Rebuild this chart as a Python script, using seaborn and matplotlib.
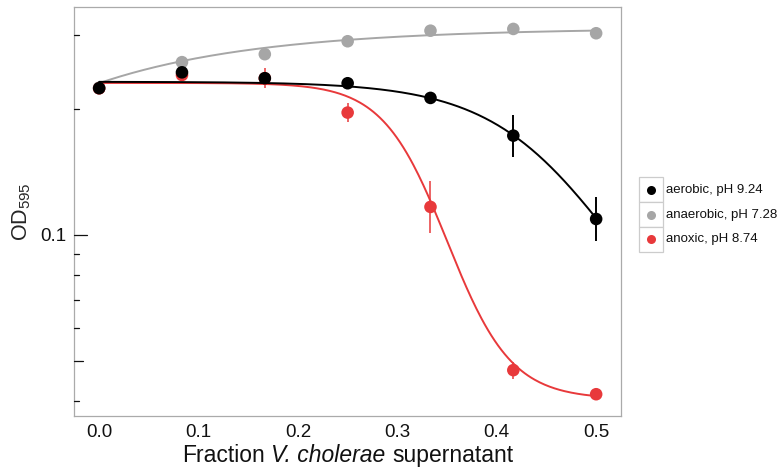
import numpy as np
import pandas as pd
import matplotlib
matplotlib.use("Agg")
import matplotlib.pyplot as plt
import seaborn as sns
from matplotlib.lines import Line2D
from matplotlib.patches import Rectangle
from matplotlib.offsetbox import TextArea, HPacker, AnchoredOffsetbox

# ---------------- data ----------------
fraction = [0.0, 1/12, 2/12, 3/12, 4/12, 5/12, 6/12]
series_names = ["aerobic, pH 9.24", "anaerobic, pH 7.28", "anoxic, pH 8.74"]
series_colors = ["#000000", "#A6A6A6", "#E8393B"]

aerobic_od = [0.2244, 0.2449, 0.2371, 0.2306, 0.2127, 0.1728, 0.1092]
aerobic_lo = [0.2210, 0.2410, 0.2330, 0.2275, 0.2095, 0.1539, 0.0966]
aerobic_hi = [0.2280, 0.2490, 0.2410, 0.2340, 0.2160, 0.1936, 0.1231]

anaerobic_od = [0.2250, 0.2590, 0.2706, 0.2906, 0.3080, 0.3110, 0.3037]
anaerobic_lo = [0.2230, 0.2565, 0.2680, 0.2880, 0.3050, 0.3080, 0.3010]
anaerobic_hi = [0.2270, 0.2615, 0.2730, 0.2930, 0.3110, 0.3140, 0.3065]

anoxic_od = [0.2242, 0.2413, 0.2370, 0.1962, 0.1167, 0.0475, 0.0416]
anoxic_lo = [0.2215, 0.2380, 0.2243, 0.1866, 0.1013, 0.0452, 0.0410]
anoxic_hi = [0.2270, 0.2450, 0.2503, 0.2064, 0.1349, 0.0498, 0.0422]

# fitted-model parameters
# log-logistic decline: top, bottom, midpoint, scale
aerobic_fit = [0.2325, 0.0400, 0.5187, 0.0636]
anoxic_fit = [0.2310, 0.0405, 0.3500, 0.0323]
# saturating rise: start, plateau, rate
anaerobic_fit = [0.2307, 0.3126, 6.13]

y_major = [0.1]
y_minor = [0.04, 0.06, 0.07, 0.08, 0.09, 0.2, 0.3]
y_mid = [0.05]
x_ticks = [0.0, 0.1, 0.2, 0.3, 0.4, 0.5]
xlabel_parts = ["Fraction", "V. cholerae", "supernatant"]
xlabel_italic = [False, True, False]


def decline(x, p):
    top, bot, x0, s = p
    lt, lb = np.log10(top), np.log10(bot)
    return 10 ** (lb + (lt - lb) / (1 + np.exp((x - x0) / s)))


def rise(x, p):
    start, plat, k = p
    ls, lp = np.log10(start), np.log10(plat)
    return 10 ** (lp - (lp - ls) * np.exp(-k * x))


xs = np.linspace(0, 0.5, 300)
curves = pd.DataFrame({
    "x": np.concatenate([xs, xs, xs]),
    "y": np.concatenate([decline(xs, aerobic_fit), rise(xs, anaerobic_fit),
                         decline(xs, anoxic_fit)]),
    "series": np.repeat(series_names, len(xs)),
})
points = pd.DataFrame({
    "x": fraction * 3,
    "y": aerobic_od + anaerobic_od + anoxic_od,
    "lo": aerobic_lo + anaerobic_lo + anoxic_lo,
    "hi": aerobic_hi + anaerobic_hi + anoxic_hi,
    "series": np.repeat(series_names, len(fraction)),
})

# ---------------- styling ----------------
sns.set_style("white")
plt.rcParams["font.family"] = ["Liberation Sans", "DejaVu Sans"]
plt.rcParams["mathtext.fontset"] = "custom"
plt.rcParams["mathtext.rm"] = "Liberation Sans"
plt.rcParams["mathtext.it"] = "Liberation Sans:italic"

W, H = 781, 469
fig = plt.figure(figsize=(W / 100, H / 100), dpi=100)
ax = fig.add_axes([74.3 / W, 1 - 416 / H, (621 - 74.3) / W, (416 - 6.7) / H])
ax.set_yscale("log")

cmap = dict(zip(series_names, series_colors))
err_lw = {series_names[0]: 1.4, series_names[1]: 1.1, series_names[2]: 1.1}
draw_order = [series_names[1], series_names[2], series_names[0]]
for i, name in enumerate(draw_order):
    z = 2 + i
    c = curves[curves.series == name]
    sns.lineplot(data=c, x="x", y="y", color=cmap[name], lw=1.4, ax=ax,
                 zorder=z, legend=False)
    p = points[points.series == name]
    ax.vlines(p.x, p.lo, p.hi, color=cmap[name], lw=err_lw[name], zorder=z + 0.1)
    sns.scatterplot(data=p, x="x", y="y", color=cmap[name], s=82,
                    edgecolor="none", ax=ax, zorder=z + 0.2, legend=False)

ax.set_xlim(-0.025, 0.525)
ax.set_ylim(0.0369, 0.3515)

ax.set_xticks(x_ticks)
ax.set_xticklabels([f"{t:.1f}" for t in x_ticks])
ax.yaxis.set_major_locator(matplotlib.ticker.FixedLocator(y_major))
ax.yaxis.set_minor_locator(matplotlib.ticker.NullLocator())
ax.set_yticklabels(["0.1"])
ax.tick_params(axis="both", which="major", direction="out", length=3,
               width=0.9, color="#333333", labelsize=13.5, labelcolor="#111111",
               pad=3)

# inward log ticks
ytr = ax.get_yaxis_transform()
panel_w = 621 - 74.3
for v in y_minor:
    ax.plot([0, 5 / panel_w], [v, v], transform=ytr, color="#111111", lw=0.9,
            clip_on=False, zorder=10)
for v in y_mid:
    ax.plot([0, 9 / panel_w], [v, v], transform=ytr, color="#111111", lw=0.9,
            clip_on=False, zorder=10)
for v in y_major:
    ax.plot([0, 12.4 / panel_w], [v, v], transform=ytr, color="#111111", lw=0.9,
            clip_on=False, zorder=10)

for sp in ax.spines.values():
    sp.set_color("#AAAAAA")
    sp.set_linewidth(0.9)

ax.set_xlabel("")
ax.set_ylabel(r"OD$_{595}$", fontsize=15.5, labelpad=5)


def fx(px):
    return px / W


def fy(py):
    return 1 - py / H


# x label with italic species name
xl_size = 16.5
parts = [TextArea(t, textprops=dict(fontsize=xl_size, color="#111111",
                                    fontstyle="italic" if it else "normal"))
         for t, it in zip(xlabel_parts, xlabel_italic)]
pack = HPacker(children=parts, align="baseline", pad=0, sep=0.278 * xl_size)
xlab = AnchoredOffsetbox(loc="center", child=pack, pad=0, borderpad=0,
                         frameon=False, bbox_to_anchor=(fx(347.7), fy(455.5)),
                         bbox_transform=fig.transFigure)
fig.add_artist(xlab)

# ---------------- legend (ggplot-style keys) ----------------
key_top = 177.3
key_h = 24.8
for i, name in enumerate(series_names):
    y0 = key_top + i * key_h
    fig.add_artist(Rectangle((fx(639), fy(y0 + key_h)), fx(24.3), key_h / H,
                             transform=fig.transFigure, facecolor="white",
                             edgecolor="#CCCCCC", lw=0.9))
    cy = y0 + key_h / 2
    fig.add_artist(Line2D([fx(651.2)], [fy(cy)], transform=fig.transFigure,
                          marker="o", markersize=6.5, color=series_colors[i],
                          markeredgewidth=0, linestyle="none"))
    fig.text(fx(666), fy(cy), name, fontsize=9.5, va="center", ha="left",
             color="#111111")

fig.savefig("out.png", dpi=100)
